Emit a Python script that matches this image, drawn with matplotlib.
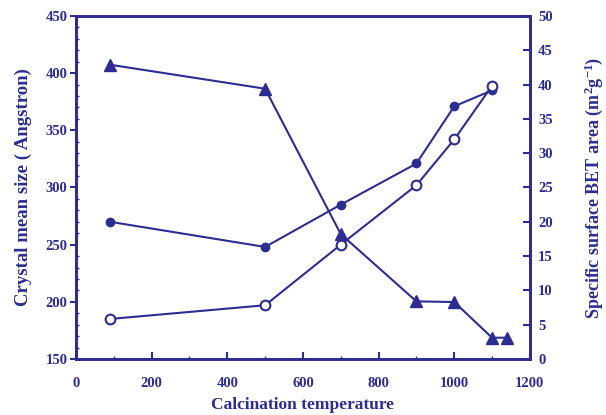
import matplotlib
matplotlib.use("Agg")
import matplotlib.pyplot as plt
from matplotlib.ticker import MultipleLocator

# data
temp = [90, 500, 700, 900, 1000, 1100]
size_filled = [270, 248, 285, 321, 371, 385]
size_open = [185, 197, 250, 302, 342, 389]
temp_bet = [90, 500, 700, 900, 1000, 1100, 1140]
bet_area = [42.9, 39.4, 18.2, 8.4, 8.3, 3.1, 3.1]

col = "#2d2d91"
plt.rcParams["font.family"] = ["Liberation Serif", "DejaVu Serif"]
plt.rcParams["font.weight"] = "bold"
plt.rcParams["mathtext.fontset"] = "custom"
plt.rcParams["mathtext.rm"] = "Liberation Serif:bold"
plt.rcParams["mathtext.bf"] = "Liberation Serif:bold"
plt.rcParams["mathtext.default"] = "bf"

fig = plt.figure(figsize=(6.06, 4.15), dpi=100)
ax = fig.add_axes([0.1254, 0.135, 0.749, 0.8264])
ax2 = ax.twinx()

ax.plot(temp, size_filled, color=col, lw=1.5, marker="o", ms=6,
        mfc=col, mec=col, zorder=3)
ax.plot(temp, size_open, color=col, lw=1.5, marker="o", ms=7,
        mfc="white", mec=col, mew=1.5, zorder=3)
ax2.plot(temp_bet, bet_area, color=col, lw=1.5, marker="^", ms=8,
         mfc=col, mec=col, zorder=3)

ax.set_xlim(0, 1200)
ax.set_ylim(150, 450)
ax2.set_ylim(0, 50)
ax.xaxis.set_major_locator(MultipleLocator(200))
ax.xaxis.set_minor_locator(MultipleLocator(100))
ax.yaxis.set_major_locator(MultipleLocator(50))
ax.yaxis.set_minor_locator(MultipleLocator(10))
ax2.yaxis.set_major_locator(MultipleLocator(5))

for a in (ax, ax2):
    for s in a.spines.values():
        s.set_color(col)
        s.set_linewidth(2.0)

ax.tick_params(axis="x", direction="in", length=5, width=1.5, colors=col,
               labelsize=10.5, pad=13, top=False)
ax.tick_params(axis="x", which="minor", direction="in", length=2, width=1, colors=col)
ax.tick_params(axis="y", direction="out", length=4, width=1.5, colors=col,
               labelsize=10.5, pad=2)
ax.tick_params(axis="y", which="minor", direction="in", length=2, width=1, colors=col)
ax2.tick_params(axis="y", direction="in", length=5, width=1.5, colors=col,
                labelsize=10.5, pad=6)

ax.set_xlabel("Calcination temperature", color=col, fontsize=12.5,
              fontweight="bold", labelpad=5)
ax.set_ylabel("Crystal mean size ( Angstron)", color=col, fontsize=13.5,
              fontweight="bold", labelpad=10)
ax2.set_ylabel("Specific surface BET area (m$^{2}$g$^{-1}$)",
               color=col, fontsize=13, fontweight="bold", labelpad=21)

for lab in ax.get_xticklabels() + ax.get_yticklabels() + ax2.get_yticklabels():
    lab.set_fontweight("bold")

fig.savefig("out.png", dpi=100)
